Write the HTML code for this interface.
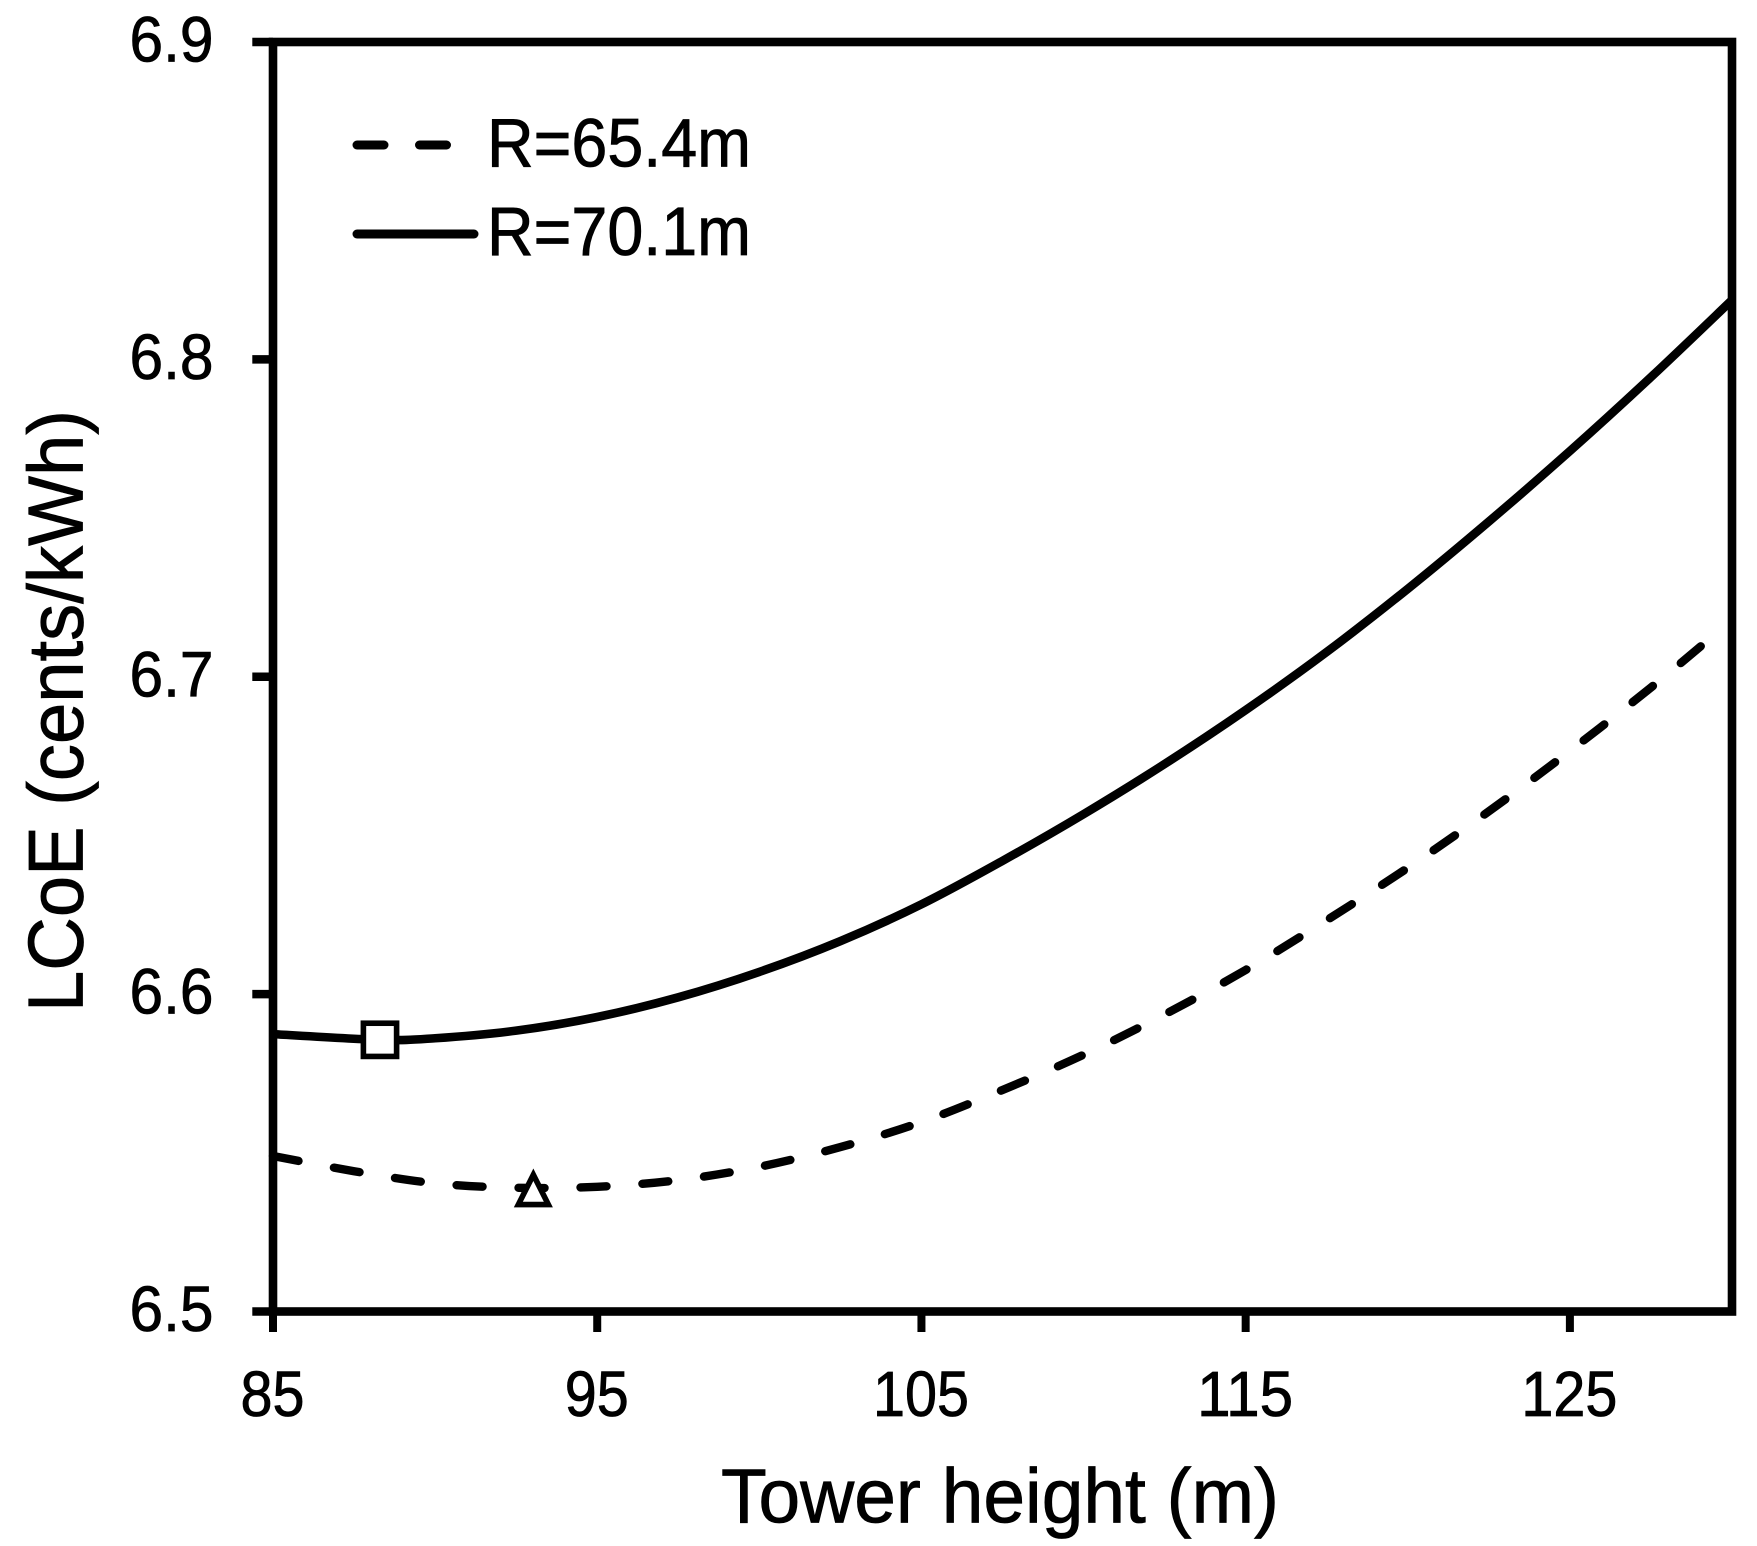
<!DOCTYPE html>
<html lang="en">
<head>
<meta charset="utf-8">
<title>LCoE vs Tower height</title>
<style>
  html, body { margin: 0; padding: 0; background: #fff; }
  svg { display: block; }
  text { font-family: "Liberation Sans", sans-serif; fill: #000; stroke: #000; stroke-width: 0.8px; }
</style>
</head>
<body>
<svg id="chart" xmlns="http://www.w3.org/2000/svg" width="1757" height="1546" viewBox="0 0 1757 1546">
  <rect x="0" y="0" width="1757" height="1546" fill="#fff"/>
  <g id="series"></g>
  <g id="axes"></g>
  <g id="markers"></g>

  <text x="721" y="1522.7" font-size="77" textLength="558" lengthAdjust="spacingAndGlyphs">Tower height (m)</text>
  <text transform="translate(82.3 1012) rotate(-90)" x="0" y="0" font-size="78" textLength="602" lengthAdjust="spacingAndGlyphs">LCoE (cents/kWh)</text>

  <g>
    <g>
      <line x1="357" y1="145" x2="384" y2="145" stroke="#000" stroke-width="9" stroke-linecap="round"/>
      <line x1="419.5" y1="145" x2="446.5" y2="145" stroke="#000" stroke-width="9" stroke-linecap="round"/>
      <text x="487" y="166.7" font-size="69" textLength="264" lengthAdjust="spacingAndGlyphs">R=65.4m</text>
    </g>
    <g>
      <line x1="357" y1="234" x2="474" y2="234" stroke="#000" stroke-width="9" stroke-linecap="round"/>
      <text x="487" y="255" font-size="69" textLength="264" lengthAdjust="spacingAndGlyphs">R=70.1m</text>
    </g>
  </g>
</svg>

<script>
const xTicks = [85, 95, 105, 115, 125];
const yTicks = [6.5, 6.6, 6.7, 6.8, 6.9];
const xTickLabels = ["85", "95", "105", "115", "125"];
const yTickLabels = ["6.5", "6.6", "6.7", "6.8", "6.9"];

const heightsR654 = [85, 87.5, 90, 92.5, 95, 97.5, 100, 102.5, 105, 107.5, 110, 112.5, 115, 117.5, 120, 122.5, 125, 127.5, 129.2];
const lcoeR654 = [6.549, 6.5442, 6.5404, 6.539, 6.5393, 6.5414, 6.5456, 6.5518, 6.5597, 6.5698, 6.5809, 6.5936, 6.6076, 6.6233, 6.6398, 6.6576, 6.6766, 6.6966, 6.711];

const heightsR701 = [85, 88.3, 90, 92.5, 95, 97.5, 100, 102.5, 105, 107.5, 110, 112.5, 115, 117.5, 120, 122.5, 125, 127.5, 130];
const lcoeR701 = [6.5874, 6.5856, 6.5861, 6.5885, 6.5928, 6.599, 6.607, 6.6167, 6.6283, 6.642, 6.6567, 6.6725, 6.6895, 6.7078, 6.7277, 6.7489, 6.7711, 6.7944, 6.8187];

const squareMarkerHeight = [88.3];
const squareMarkerLcoe = [6.5856];
const triangleMarkerHeight = [93.03];
const triangleMarkerLcoe = [6.539];

const xDomain = [85, 130];
const yDomain = [6.5, 6.9];
const plotLeft = 273, plotRight = 1732, plotTop = 42, plotBottom = 1311.5;

function xScale(v) {
  return plotLeft + (v - xDomain[0]) / (xDomain[1] - xDomain[0]) * (plotRight - plotLeft);
}
function yScale(v) {
  return plotBottom - (v - yDomain[0]) / (yDomain[1] - yDomain[0]) * (plotBottom - plotTop);
}

const NS = "http://www.w3.org/2000/svg";
function make(tag, attrs, parent) {
  const el = document.createElementNS(NS, tag);
  Object.keys(attrs).forEach(function (k) { el.setAttribute(k, attrs[k]); });
  parent.appendChild(el);
  return el;
}

function smoothPath(xs, ys) {
  const pts = xs.map(function (x, i) { return [xScale(x), yScale(ys[i])]; });
  let d = "M" + pts[0][0].toFixed(2) + " " + pts[0][1].toFixed(2);
  for (let i = 0; i < pts.length - 1; i++) {
    const p0 = pts[Math.max(0, i - 1)];
    const p1 = pts[i];
    const p2 = pts[i + 1];
    const p3 = pts[Math.min(pts.length - 1, i + 2)];
    const c1x = p1[0] + (p2[0] - p0[0]) / 6;
    const c1y = p1[1] + (p2[1] - p0[1]) / 6;
    const c2x = p2[0] - (p3[0] - p1[0]) / 6;
    const c2y = p2[1] - (p3[1] - p1[1]) / 6;
    d += " C" + c1x.toFixed(2) + " " + c1y.toFixed(2) + " " + c2x.toFixed(2) + " " + c2y.toFixed(2) + " " + p2[0].toFixed(2) + " " + p2[1].toFixed(2);
  }
  return d;
}

const seriesLayer = document.getElementById("series");
const axesLayer = document.getElementById("axes");
const markersLayer = document.getElementById("markers");

const dashedLine = make("path", {
  d: smoothPath(heightsR654, lcoeR654),
  fill: "none", stroke: "#000", "stroke-width": 8.4,
  "stroke-linecap": "round", "stroke-dasharray": "26 36"
}, seriesLayer);



const solidLine = make("path", {
  d: smoothPath(heightsR701, lcoeR701),
  fill: "none", stroke: "#000", "stroke-width": 8.6
}, seriesLayer);



const frame = make("rect", {
  x: plotLeft, y: plotTop, width: plotRight - plotLeft, height: plotBottom - plotTop,
  fill: "none", stroke: "#000", "stroke-width": 8.6
}, axesLayer);



yTicks.forEach(function (v, i) {
  const y = yScale(v);
  const tick = make("line", {
    x1: 252.3, y1: y, x2: plotLeft, y2: y, stroke: "#000", "stroke-width": 8.4
  }, axesLayer);
  
  
  const label = make("text", {
    x: 171.5, y: y + 19.5, "font-size": 64, "text-anchor": "middle",
    textLength: 84, lengthAdjust: "spacingAndGlyphs"
  }, axesLayer);
  
  
  label.textContent = yTickLabels[i];
});

xTicks.forEach(function (v, i) {
  const x = xScale(v);
  const tick = make("line", {
    x1: x, y1: plotBottom, x2: x, y2: 1332, stroke: "#000", "stroke-width": 8
  }, axesLayer);
  
  
  const text = xTickLabels[i];
  const label = make("text", {
    x: x - 0.5, y: 1416, "font-size": 64, "text-anchor": "middle",
    textLength: text.length === 2 ? 64 : 96, lengthAdjust: "spacingAndGlyphs"
  }, axesLayer);
  
  
  label.textContent = text;
});

squareMarkerHeight.forEach(function (h, i) {
  const cx = xScale(h);
  const cy = yScale(squareMarkerLcoe[i]);
  const square = make("rect", {
    x: cx - 16.6, y: cy - 16.6, width: 33.2, height: 33.2,
    fill: "#fff", stroke: "#000", "stroke-width": 5.6
  }, markersLayer);
  
  
});

triangleMarkerHeight.forEach(function (h, i) {
  const cx = xScale(h);
  const cy = yScale(triangleMarkerLcoe[i]);
  const pts = [
    [cx, cy - 13],
    [cx + 15, cy + 16.8],
    [cx - 15, cy + 16.8]
  ].map(function (p) { return p[0].toFixed(2) + "," + p[1].toFixed(2); }).join(" ");
  const triangle = make("polygon", {
    points: pts, fill: "#fff", stroke: "#000", "stroke-width": 5.6, "stroke-linejoin": "miter"
  }, markersLayer);
  
  
});
</script>
</body>
</html>
